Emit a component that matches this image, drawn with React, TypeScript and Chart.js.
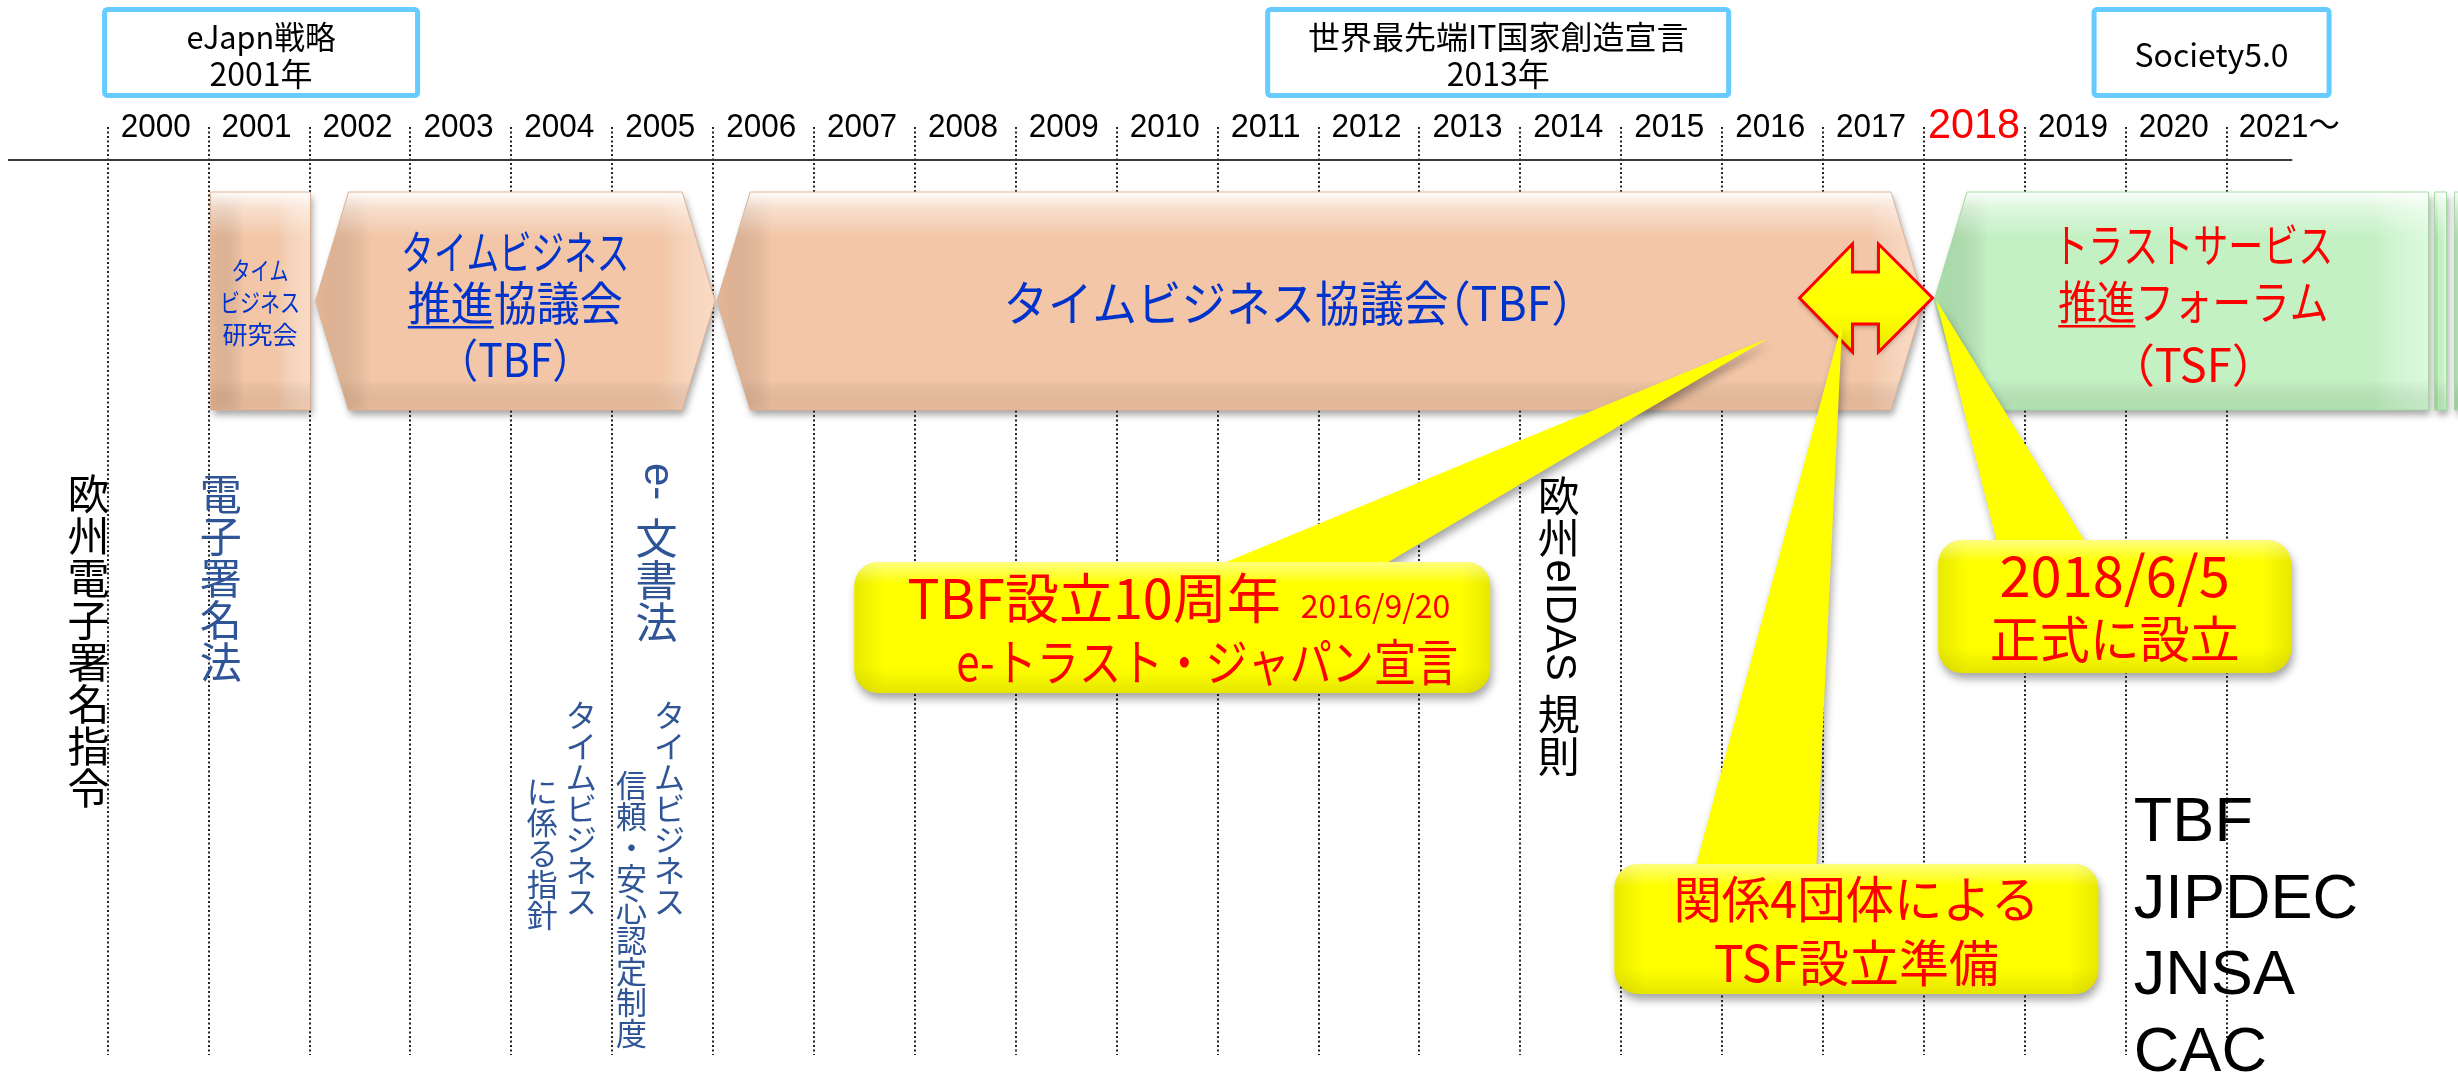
import React, { useEffect, useRef } from "react";
import { Chart, registerables } from "chart.js";

Chart.register(...registerables);

const CANVAS_W = 2458;
const CANVAS_H = 1081;

// ---------------- data ----------------
const yearTicks = [2000, 2001, 2002, 2003, 2004, 2005, 2006, 2007, 2008, 2009, 2010, 2011, 2012, 2013, 2014, 2015, 2016, 2017, 2018, 2019, 2020, 2021];
const yearLabels = ["2000", "2001", "2002", "2003", "2004", "2005", "2006", "2007", "2008", "2009", "2010", "2011", "2012", "2013", "2014", "2015", "2016", "2017", "2018", "2019", "2020", "2021～"];
const highlightYear = 2018;

const policyTitles = ["eJapn戦略", "世界最先端IT国家創造宣言", "Society5.0"];
const policySubtitles = ["2001年", "2013年", ""];
const policyYears = [2001.52, 2013.78, 2020.85];

const orgNameLines = [
  ["タイム", "ビジネス", "研究会"],
  ["タイムビジネス", "推進協議会", "（TBF）"],
  ["タイムビジネス協議会（TBF）"],
  ["トラストサービス", "推進フォーラム", "（TSF）"],
];
const orgStartYears = [2001, 2002, 2006, 2018];
const orgEndYears = [2002, 2006, 2018, 2023];

const lawLines = [
  ["欧州電子署名指令"],
  ["電子署名法"],
  ["e-文書法"],
  ["タイムビジネス", "に係る指針"],
  ["タイムビジネス", "信頼・安心認定制度"],
  ["欧州eIDAS 規則"],
];
const lawYears = [1999.81, 2001.12, 2005.44, 2004.5, 2005.38, 2014.38];

const calloutLines = [
  ["TBF設立10周年", "e-トラスト・ジャパン宣言"],
  ["関係4団体による", "TSF設立準備"],
  ["2018/6/5", "正式に設立"],
];
const calloutDates = ["2016/9/20", "", ""];
const calloutTipYears = [2016.46, 2017.19, 2018.12];
const calloutBoxYears = [2010.55, 2017.33, 2019.89];

const transitionYear = 2017.43;

const memberOrgs = ["TBF", "JIPDEC", "JNSA", "CAC"];
const memberYear = 2020.08;

// ---------------- layout / style ----------------
const PX_AT_2000 = 107.7;
const PX_PER_YEAR = 100.905;
const X_MIN = 2000 - PX_AT_2000 / PX_PER_YEAR;
const X_MAX = X_MIN + CANVAS_W / PX_PER_YEAR;

const JP = '"Noto Sans CJK JP", "Noto Sans", sans-serif';
const LAT = '"Liberation Sans", Arial, "Noto Sans CJK JP", sans-serif';
const BAND_BLUE = "#0033CC";
const LAW_BLUE = "#2F5597";
const RED = "#FF0000";

function measureRich(ctx, s, size) {
  const parts = s.split(/([（）])/).filter((p) => p);
  let w = 0;
  for (const p of parts) {
    if (p === "（" || p === "）") w += size * 0.5;
    else w += ctx.measureText(p).width;
  }
  return w;
}

function drawRich(ctx, s, x, y, size) {
  const parts = s.split(/([（）])/).filter((p) => p);
  let cx = x;
  for (const p of parts) {
    if (p === "（") {
      ctx.fillText(p, cx - size * 0.5, y);
      cx += size * 0.5;
    } else if (p === "）") {
      ctx.fillText(p, cx, y);
      cx += size * 0.5;
    } else {
      ctx.fillText(p, cx, y);
      cx += ctx.measureText(p).width;
    }
  }
}

function drawText(ctx, s, x, y, o) {
  ctx.font = `${o.weight || "normal"} ${o.size}px ${o.family || JP}`;
  ctx.fillStyle = o.color || "#000";
  ctx.textAlign = "left";
  ctx.textBaseline = o.baseline || "middle";
  const nat = measureRich(ctx, s, o.size);
  const k = o.maxW && nat > o.maxW ? o.maxW / nat : 1;
  const w = nat * k;
  const left = o.align === "left" ? x : o.align === "right" ? x - w : x - w / 2;
  ctx.save();
  ctx.translate(left, y);
  ctx.scale(k, 1);
  drawRich(ctx, s, 0, 0, o.size);
  ctx.restore();
  return { left, right: left + w, k };
}

function drawVertical(ctx, s, cx, top, size, color, latinGap) {
  ctx.fillStyle = color;
  let y = top;
  const runs = s.match(/[A-Za-z0-9\- ]+|[^A-Za-z0-9\- ]/g) || [];
  for (const r of runs) {
    if (/^[A-Za-z0-9\- ]+$/.test(r)) {
      ctx.font = `${size}px ${LAT}`;
      const w = ctx.measureText(r).width;
      ctx.save();
      ctx.translate(cx, y);
      ctx.rotate(Math.PI / 2);
      ctx.textAlign = "left";
      ctx.textBaseline = "middle";
      ctx.fillText(r, 0, 0);
      ctx.restore();
      y += w + (latinGap || 0);
    } else {
      ctx.font = `${size}px ${JP}`;
      ctx.textAlign = "center";
      ctx.textBaseline = "middle";
      ctx.fillText(r, cx, y + size / 2);
      y += size;
    }
  }
}

function bandPath(ctx, x0, x1, yT, yB, ptL, ptR, ind) {
  const yM = (yT + yB) / 2;
  ctx.beginPath();
  ctx.moveTo(ptL ? x0 + ind : x0, yT);
  ctx.lineTo(ptR ? x1 - ind : x1, yT);
  if (ptR) ctx.lineTo(x1, yM);
  ctx.lineTo(ptR ? x1 - ind : x1, yB);
  ctx.lineTo(ptL ? x0 + ind : x0, yB);
  if (ptL) ctx.lineTo(x0, yM);
  ctx.closePath();
}

const PEACH = {
  base: "#F2C6A7",
  dark: "rgba(200,145,110,0.30)",
  light: "rgba(255,228,208,0.65)",
  bottom: "rgba(190,135,100,0.20)",
  edge: "rgba(220,175,145,0.9)",
};
const GREEN = {
  base: "#C4F1C4",
  dark: "rgba(110,185,110,0.30)",
  light: "rgba(232,255,232,0.65)",
  bottom: "rgba(95,165,95,0.20)",
  edge: "rgba(160,215,160,0.9)",
};

function bevelShape(ctx, path, x0, x1, yT, yB, pal) {
  ctx.save();
  ctx.shadowColor = "rgba(0,0,0,0.35)";
  ctx.shadowBlur = 7;
  ctx.shadowOffsetX = 2;
  ctx.shadowOffsetY = 5;
  path();
  ctx.fillStyle = pal.base;
  ctx.fill();
  ctx.restore();

  ctx.save();
  path();
  ctx.clip();
  const ew = Math.min(55, (x1 - x0) / 3);
  let g = ctx.createLinearGradient(x0, 0, x0 + ew, 0);
  g.addColorStop(0, pal.dark);
  g.addColorStop(1, "rgba(0,0,0,0)");
  ctx.fillStyle = g;
  ctx.fillRect(x0, yT, ew, yB - yT);
  g = ctx.createLinearGradient(x1 - ew, 0, x1, 0);
  g.addColorStop(0, "rgba(255,255,255,0)");
  g.addColorStop(1, pal.light);
  ctx.fillStyle = g;
  ctx.fillRect(x1 - ew, yT, ew, yB - yT);
  g = ctx.createLinearGradient(0, yB - 30, 0, yB);
  g.addColorStop(0, "rgba(0,0,0,0)");
  g.addColorStop(1, pal.bottom);
  ctx.fillStyle = g;
  ctx.fillRect(x0, yB - 30, x1 - x0, 30);
  g = ctx.createLinearGradient(0, yT, 0, yT + 45);
  g.addColorStop(0, "rgba(255,255,255,0.95)");
  g.addColorStop(0.35, "rgba(255,255,255,0.45)");
  g.addColorStop(1, "rgba(255,255,255,0)");
  ctx.fillStyle = g;
  ctx.fillRect(x0, yT, x1 - x0, 45);
  ctx.restore();

  ctx.save();
  path();
  ctx.strokeStyle = pal.edge;
  ctx.lineWidth = 1;
  ctx.stroke();
  ctx.restore();
}

function calloutPath(ctx, bx0, by0, bx1, by1, r, baseL, baseR, tipX, tipY) {
  ctx.beginPath();
  ctx.moveTo(bx0 + r, by0);
  ctx.lineTo(baseL, by0);
  ctx.lineTo(tipX, tipY);
  ctx.lineTo(baseR, by0);
  ctx.lineTo(bx1 - r, by0);
  ctx.arcTo(bx1, by0, bx1, by0 + r, r);
  ctx.lineTo(bx1, by1 - r);
  ctx.arcTo(bx1, by1, bx1 - r, by1, r);
  ctx.lineTo(bx0 + r, by1);
  ctx.arcTo(bx0, by1, bx0, by1 - r, r);
  ctx.lineTo(bx0, by0 + r);
  ctx.arcTo(bx0, by0, bx0 + r, by0, r);
  ctx.closePath();
}

const diagramPlugin = {
  id: "timelineDiagram",
  beforeDatasetsDraw(chart) {
    // dotted year grid, positioned by the x scale's ticks
    const ctx = chart.ctx;
    const xs = chart.scales.x;
    const area = chart.chartArea;
    ctx.save();
    ctx.strokeStyle = "#0d0d0d";
    ctx.lineWidth = 1.8;
    ctx.setLineDash([2, 2.5]);
    xs.ticks.forEach((t) => {
      const x = Math.round(xs.getPixelForValue(t.value));
      ctx.beginPath();
      ctx.moveTo(x, area.top);
      ctx.lineTo(x, area.bottom);
      ctx.stroke();
    });
    ctx.restore();
  },
  afterDraw(chart) {
    const ctx = chart.ctx;
    const xs = chart.scales.x;
    const X = (v) => xs.getPixelForValue(v);

    // axis line
    ctx.save();
    ctx.strokeStyle = "#3a3a3a";
    ctx.lineWidth = 2;
    ctx.beginPath();
    ctx.moveTo(8, 160);
    ctx.lineTo(X(2021.65), 160);
    ctx.stroke();
    ctx.restore();

    // year labels
    yearTicks.forEach((yr, i) => {
      const lab = yearLabels[i];
      if (yr === highlightYear) {
        drawText(ctx, lab, X(yr) + 50, 138, { size: 42, family: LAT, color: RED, maxW: 92, baseline: "alphabetic" });
      } else if (i === yearTicks.length - 1) {
        drawText(ctx, lab, X(yr) + 12, 137, { size: 34, family: LAT, color: "#000", maxW: 101, align: "left", baseline: "alphabetic" });
      } else {
        drawText(ctx, lab, X(yr) + 48, 137, { size: 34, family: LAT, color: "#000", maxW: 70, baseline: "alphabetic" });
      }
    });

    // policy boxes
    const policyBoxW = [318, 466, 240];
    policyTitles.forEach((t, i) => {
      const cx = X(policyYears[i]);
      const w = policyBoxW[i];
      const x0 = cx - w / 2;
      ctx.save();
      ctx.fillStyle = "#fff";
      ctx.fillRect(x0, 8, w, 89);
      ctx.strokeStyle = "#66CCFF";
      ctx.lineWidth = 5;
      ctx.beginPath();
      ctx.roundRect(x0 + 2.5, 9.5, w - 5, 86, 3);
      ctx.stroke();
      ctx.restore();
      const sub = policySubtitles[i];
      const titleMax = [149, 381, 161][i];
      if (sub) {
        drawText(ctx, t, cx, 37, { size: 32, color: "#000", maxW: titleMax });
        drawText(ctx, sub, cx, 74, { size: 32, color: "#000", maxW: 110 });
      } else {
        drawText(ctx, t, cx, 55, { size: 32, color: "#000", maxW: titleMax });
      }
    });

    // organisation bands
    const yT = 192, yB = 410, ind = 33;
    const bandGeom = [
      { l: 2, r: 1, ptL: false, ptR: false, pal: PEACH },
      { l: 6, r: 2, ptL: true, ptR: true, pal: PEACH },
      { l: 4, r: 0, ptL: true, ptR: true, pal: PEACH },
      { l: 10, r: 0, ptL: true, ptR: false, pal: GREEN },
    ];
    orgStartYears.forEach((s, i) => {
      const g = bandGeom[i];
      const x0 = X(s) + g.l;
      const x1 = X(orgEndYears[i]) + g.r;
      bevelShape(ctx, () => bandPath(ctx, x0, x1, yT, yB, g.ptL, g.ptR, ind), x0, x1, yT, yB, g.pal);
      if (i === 3) {
        [[6, 18], [26, 40]].forEach(([a, b]) => {
          bevelShape(ctx, () => bandPath(ctx, x1 + a, x1 + b, yT, yB, false, false, 0), x1 + a, x1 + b, yT, yB, GREEN);
        });
      }
    });

    // band texts
    {
      const c0 = (X(orgStartYears[0]) + X(orgEndYears[0])) / 2 + 1;
      const l0 = orgNameLines[0];
      const mw0 = [57, 80, 77];
      [270, 302, 334].forEach((y, j) => drawText(ctx, l0[j], c0, y, { size: 25, color: BAND_BLUE, maxW: mw0[j] }));

      const c1 = (X(orgStartYears[1]) + 6 + X(orgEndYears[1]) + 2) / 2;
      const l1 = orgNameLines[1];
      drawText(ctx, l1[0], c1, 252, { size: 46, color: BAND_BLUE, maxW: 228 });
      const r1 = drawText(ctx, l1[1], c1, 303, { size: 46, color: BAND_BLUE, maxW: 215 });
      drawText(ctx, l1[2], c1, 360, { size: 46, color: BAND_BLUE, maxW: 115 });
      ctx.font = `46px ${JP}`;
      const u1 = ctx.measureText("推進").width * r1.k;
      ctx.fillStyle = BAND_BLUE;
      ctx.fillRect(r1.left, 326, u1, 2.5);

      const c2 = (X(orgStartYears[2]) + X(orgEndYears[2])) / 2 - 30;
      drawText(ctx, orgNameLines[2][0], c2, 303, { size: 48, color: BAND_BLUE, maxW: 570 });

      const c3 = (X(orgStartYears[3]) + 10 + X(orgEndYears[3])) / 2 + 12;
      const l3 = orgNameLines[3];
      drawText(ctx, l3[0], c3, 245, { size: 46, color: RED, maxW: 280 });
      const r3 = drawText(ctx, l3[1], c3, 302, { size: 46, color: RED, maxW: 270 });
      drawText(ctx, l3[2], c3, 365, { size: 46, color: RED, maxW: 122 });
      ctx.font = `46px ${JP}`;
      const u3 = ctx.measureText("推進").width * r3.k;
      ctx.fillStyle = RED;
      ctx.fillRect(r3.left, 325, u3, 2.5);
    }

    // double arrow (transition TBF -> TSF)
    {
      const cx = X(transitionYear);
      const cy = 298;
      const pts = [
        [-67, 0], [-14, -54], [-14, -26], [12, -26], [12, -54], [66, 0],
        [12, 54], [12, 26], [-14, 26], [-14, 54],
      ];
      const path = () => {
        ctx.beginPath();
        pts.forEach(([dx, dy], k) => (k ? ctx.lineTo(cx + dx, cy + dy) : ctx.moveTo(cx + dx, cy + dy)));
        ctx.closePath();
      };
      ctx.save();
      ctx.shadowColor = "rgba(0,0,0,0.3)";
      ctx.shadowBlur = 5;
      ctx.shadowOffsetY = 3;
      path();
      ctx.fillStyle = "#FFFF00";
      ctx.fill();
      ctx.restore();
      ctx.save();
      path();
      ctx.clip();
      const g = ctx.createLinearGradient(0, cy - 54, 0, cy + 54);
      g.addColorStop(0, "rgba(255,255,170,0.35)");
      g.addColorStop(0.5, "rgba(255,255,0,0)");
      g.addColorStop(1, "rgba(150,150,0,0.25)");
      ctx.fillStyle = g;
      ctx.fillRect(cx - 70, cy - 56, 140, 112);
      ctx.restore();
      ctx.save();
      path();
      ctx.strokeStyle = RED;
      ctx.lineWidth = 3;
      ctx.lineJoin = "miter";
      ctx.stroke();
      ctx.restore();
    }

    // vertical law texts
    const lawStyle = [
      { size: 42, color: "#000", tops: [473.5], colGap: 0, latinGap: 0 },
      { size: 42, color: LAW_BLUE, tops: [473.5], colGap: 0, latinGap: 0 },
      { size: 42, color: LAW_BLUE, tops: [463], colGap: 0, latinGap: 17 },
      { size: 31, color: LAW_BLUE, tops: [700, 776], colGap: 39, latinGap: 0 },
      { size: 31, color: LAW_BLUE, tops: [700, 770], colGap: 38, latinGap: 0 },
      { size: 42, color: "#000", tops: [475.5], colGap: 0, latinGap: 0 },
    ];
    lawLines.forEach((lines, i) => {
      const st = lawStyle[i];
      const cx = X(lawYears[i]);
      const n = lines.length;
      lines.forEach((ln, j) => {
        const colX = cx + st.colGap * ((n - 1) / 2 - j);
        drawVertical(ctx, ln, colX, st.tops[j], st.size, st.color, st.latinGap);
      });
    });

    // callouts
    const calloutGeom = [
      { w: 636, top: 562, bottom: 693, baseL: 372, baseR: 534, tipY: 338 },
      { w: 484, top: 864, bottom: 994, baseL: 82, baseR: 202, tipY: 322 },
      { w: 353, top: 540, bottom: 673, baseL: 58, baseR: 146, tipY: 300 },
    ];
    calloutLines.forEach((lines, i) => {
      const g = calloutGeom[i];
      const cx = X(calloutBoxYears[i]);
      const bx0 = cx - g.w / 2;
      const bx1 = cx + g.w / 2;
      const tipX = X(calloutTipYears[i]);
      const path = () => calloutPath(ctx, bx0, g.top, bx1, g.bottom, 24, bx0 + g.baseL, bx0 + g.baseR, tipX, g.tipY);
      ctx.save();
      ctx.shadowColor = "rgba(0,0,0,0.35)";
      ctx.shadowBlur = 8;
      ctx.shadowOffsetX = 2;
      ctx.shadowOffsetY = 6;
      path();
      ctx.fillStyle = "#FFFF00";
      ctx.fill();
      ctx.restore();
      ctx.save();
      path();
      ctx.clip();
      let gr = ctx.createLinearGradient(bx0, 0, bx0 + 30, 0);
      gr.addColorStop(0, "rgba(165,165,0,0.25)");
      gr.addColorStop(1, "rgba(165,165,0,0)");
      ctx.fillStyle = gr;
      ctx.fillRect(bx0, g.top, 30, g.bottom - g.top);
      gr = ctx.createLinearGradient(bx1 - 30, 0, bx1, 0);
      gr.addColorStop(0, "rgba(165,165,0,0)");
      gr.addColorStop(1, "rgba(165,165,0,0.25)");
      ctx.fillStyle = gr;
      ctx.fillRect(bx1 - 30, g.top, 30, g.bottom - g.top);
      gr = ctx.createLinearGradient(0, g.bottom - 26, 0, g.bottom);
      gr.addColorStop(0, "rgba(165,165,0,0)");
      gr.addColorStop(1, "rgba(165,165,0,0.28)");
      ctx.fillStyle = gr;
      ctx.fillRect(bx0, g.bottom - 26, g.w, 26);
      gr = ctx.createLinearGradient(0, g.top, 0, g.top + 22);
      gr.addColorStop(0, "rgba(255,255,210,0.6)");
      gr.addColorStop(1, "rgba(255,255,210,0)");
      ctx.fillStyle = gr;
      ctx.fillRect(bx0, g.top, g.w, 22);
      ctx.restore();

      if (i === 0) {
        const d = drawText(ctx, calloutDates[0], bx1 - 40, 606, { size: 32, color: RED, align: "right" });
        drawText(ctx, lines[0], d.left - 20, 598, { size: 54, color: RED, align: "right", maxW: 377 });
        drawText(ctx, lines[1], bx1 - 32, 662, { size: 50, color: RED, align: "right", maxW: 502 });
      } else if (i === 1) {
        drawText(ctx, lines[0], cx, 899, { size: 50, color: RED, maxW: 366 });
        drawText(ctx, lines[1], cx, 963, { size: 50, color: RED, maxW: 312 });
      } else {
        drawText(ctx, lines[0], cx, 576, { size: 56, color: RED, maxW: 244 });
        drawText(ctx, lines[1], cx, 639, { size: 50, color: RED, maxW: 250 });
      }
    });

    // member organisations
    const mx = X(memberYear);
    memberOrgs.forEach((m, i) => {
      drawText(ctx, m, mx, 841 + i * 76.7, { size: 63, family: LAT, color: "#000", align: "left", baseline: "alphabetic" });
    });
  },
};

export default function App() {
  const ref = useRef(null);
  useEffect(() => {
    document.body.style.margin = "0";
    document.body.style.overflow = "hidden";
    const chart = new Chart(ref.current, {
      type: "scatter",
      data: { datasets: [] },
      options: {
        animation: false,
        responsive: false,
        devicePixelRatio: 1,
        events: [],
        layout: { padding: { left: 0, right: 0, top: 127, bottom: 26 } },
        plugins: { legend: { display: false }, tooltip: { enabled: false }, title: { display: false } },
        scales: {
          x: {
            type: "linear",
            min: X_MIN,
            max: X_MAX,
            afterBuildTicks: (axis) => {
              axis.ticks = yearTicks.map((v) => ({ value: v }));
            },
            ticks: { display: false },
            grid: { display: false, drawTicks: false },
            border: { display: false },
          },
          y: { type: "linear", min: 0, max: 1, display: false },
        },
      },
      plugins: [diagramPlugin],
    });
    return () => chart.destroy();
  }, []);
  return (
    <div style={{ position: "absolute", left: 0, top: 0, width: CANVAS_W, height: CANVAS_H, background: "#fff" }}>
      <canvas ref={ref} width={CANVAS_W} height={CANVAS_H} style={{ width: CANVAS_W, height: CANVAS_H, display: "block" }} />
    </div>
  );
}
